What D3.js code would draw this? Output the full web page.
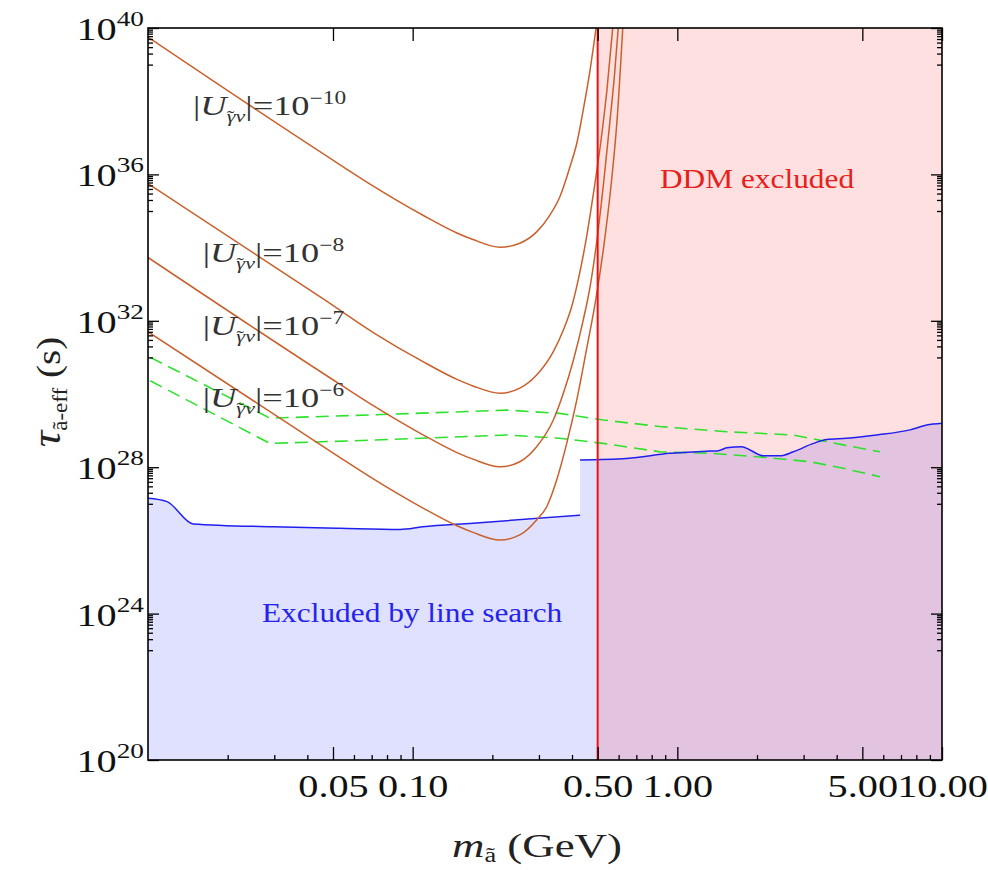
<!DOCTYPE html>
<html>
<head>
<meta charset="utf-8">
<script src="https://cdn.jsdelivr.net/npm/d3@7"></script>
<style>
  body { margin: 0; background: #fff; }
  svg text { font-family: "Liberation Serif", "Times New Roman", serif; }
</style>
</head>
<body>
<div id="chart"></div>
<script>
// x = mass (GeV), second value = log10 of effective lifetime (s)
const massMajor = [0.05, 0.1, 0.5, 1, 5, 10];
const massLabels = ["0.05", "0.10", "0.50", "1.00", "5.00", "10.00"];
const massMinor = [0.02, 0.03, 0.04, 0.06, 0.07, 0.08, 0.09, 0.2, 0.3, 0.4,
    0.6, 0.7, 0.8, 0.9, 2, 3, 4, 6, 7, 8, 9];
const tauMajorExp = [20, 24, 28, 32, 36, 40];

const mixingExp = ["\u221210", "\u22128", "\u22127", "\u22126"];
const curveU10 = [[0.010, 39.75], [0.053, 36.27], [0.071, 35.68], [0.109, 34.89], [0.147, 34.40],
    [0.169, 34.22], [0.214, 34.01], [0.254, 34.12], [0.294, 34.43], [0.330, 34.89], [0.360, 35.39],
    [0.393, 36.21], [0.417, 36.85], [0.441, 37.76], [0.468, 38.85], [0.493, 40.0]];
const curveU8 = [[0.010, 35.75], [0.047, 32.55], [0.071, 31.68], [0.109, 30.89], [0.147, 30.40],
    [0.169, 30.22], [0.214, 30.02], [0.254, 30.16], [0.294, 30.52], [0.340, 31.16], [0.371, 31.75],
    [0.399, 32.39], [0.422, 33.11], [0.452, 34.21], [0.484, 35.57], [0.515, 36.94], [0.542, 38.31],
    [0.570, 40.0]];
const curveU7 = [[0.010, 33.73], [0.053, 30.27], [0.071, 29.68], [0.109, 28.89], [0.147, 28.40],
    [0.169, 28.22], [0.214, 28.01], [0.254, 28.15], [0.294, 28.56], [0.340, 29.29], [0.371, 30.02],
    [0.405, 30.93], [0.441, 32.02], [0.468, 32.93], [0.497, 34.21], [0.528, 35.85], [0.557, 37.49],
    [0.579, 38.72], [0.598, 40.0]];
const curveU6 = [[0.010, 31.70], [0.053, 28.27], [0.071, 27.68], [0.109, 26.89], [0.147, 26.40],
    [0.169, 26.22], [0.214, 26.01], [0.254, 26.15], [0.294, 26.56], [0.321, 26.92], [0.350, 27.65],
    [0.382, 28.65], [0.417, 29.84], [0.455, 31.26], [0.493, 32.62], [0.528, 34.07], [0.562, 35.71],
    [0.592, 37.49], [0.622, 40.0]];

const lineSearchLow = [[0.010, 27.15], [0.0118, 27.06], [0.0148, 26.45], [0.0297, 26.37],
    [0.0531, 26.33], [0.0896, 26.30], [0.109, 26.37], [0.169, 26.47], [0.429, 26.69]];
const lineSearchHigh = [[0.429, 28.20], [0.644, 28.24], [0.938, 28.38], [1.328, 28.44], [1.428, 28.45],
    [1.537, 28.53], [1.751, 28.56], [1.882, 28.47], [2.112, 28.31], [2.443, 28.31], [2.743, 28.42],
    [3.264, 28.65], [3.667, 28.76], [4.364, 28.79], [5.665, 28.88], [7.568, 29.02], [8.753, 29.15],
    [10.0, 29.20]];

const greenUpper = [[0.0102, 31.00], [0.0289, 29.34], [0.0710, 29.43], [0.227, 29.56], [0.360, 29.47],
    [0.525, 29.29], [0.860, 29.11], [1.537, 28.97], [2.743, 28.88], [4.236, 28.61], [5.831, 28.42]];
const greenLower = [[0.0102, 30.36], [0.0289, 28.65], [0.0710, 28.74], [0.227, 28.88], [0.360, 28.79],
    [0.525, 28.65], [0.860, 28.42], [1.328, 28.38], [2.052, 28.28], [3.171, 28.15], [4.236, 27.97],
    [5.831, 27.74]];

const ddmLimit = 0.5;

let margin = {top: 28, right: 46, bottom: 110, left: 148};
let width = 988 - margin.left - margin.right;
let height = 870 - margin.top - margin.bottom;

let svg = d3.select("#chart").append("svg")
    .attr("width", 988)
    .attr("height", 870)
    .append("g")
    .attr("transform", "translate(" + margin.left + "," + margin.top + ")");

let x = d3.scaleLog().domain([0.01, 10]).range([0, width]);
let y = d3.scaleLog().domain([1e20, 1e40]).range([height, 0]);
let yy = v => y(Math.pow(10, v));

svg.append("clipPath").attr("id", "clip")
    .append("rect").attr("width", width).attr("height", height);

let plot = svg.append("g").attr("clip-path", "url(#clip)");

// excluded regions
plot.append("path")
    .datum(lineSearchLow.concat(lineSearchHigh))
    .attr("fill", "rgb(0,0,255)")
    .attr("fill-opacity", 0.12)
    .attr("d", d3.area()
        .x(d => x(d[0]))
        .y0(height)
        .y1(d => yy(d[1]))
        .curve(d3.curveMonotoneX));

plot.append("rect")
    .attr("x", x(ddmLimit))
    .attr("width", width - x(ddmLimit))
    .attr("height", height)
    .attr("fill", "rgb(255,0,0)")
    .attr("fill-opacity", 0.12);

let line = d3.line().x(d => x(d[0])).y(d => yy(d[1]));
let smooth = d3.line().x(d => x(d[0])).y(d => yy(d[1])).curve(d3.curveMonotoneX);

[greenUpper, greenLower].forEach(function (g) {
    plot.append("path")
        .datum(g)
        .attr("fill", "none")
        .attr("stroke", "rgb(45,225,45)")
        .attr("stroke-width", 1.6)
        .attr("stroke-dasharray", "13,7")
        .attr("d", line);
});

[lineSearchLow, lineSearchHigh].forEach(function (b) {
    plot.append("path")
        .datum(b)
        .attr("fill", "none")
        .attr("stroke", "#2020ee")
        .attr("stroke-width", 1.5)
        .attr("d", smooth);
});

[curveU10, curveU8, curveU7, curveU6].forEach(function (c) {
    plot.append("path")
        .datum(c)
        .attr("fill", "none")
        .attr("stroke", "#c9602c")
        .attr("stroke-width", 1.5)
        .attr("d", smooth);
});

plot.append("line")
    .attr("x1", x(ddmLimit)).attr("x2", x(ddmLimit))
    .attr("y1", 0).attr("y2", height)
    .attr("stroke", "#ee1111")
    .attr("stroke-width", 2);

// ticks (all pointing inward)
let tauMajor = tauMajorExp.map(e => Math.pow(10, e));
let tauMinor = [];
tauMajorExp.slice(1).forEach(function (e) {
    for (let j = 1; j <= 9; j++) tauMinor.push(j * Math.pow(10, e - 1));
});

function tickGroup(axis, tx, ty) {
    let g = svg.append("g")
        .attr("transform", "translate(" + tx + "," + ty + ")")
        .call(axis);
    g.select(".domain").remove();
    g.selectAll("line").attr("stroke", "#000").attr("stroke-width", 1.3);
    return g;
}

let xAxis = tickGroup(d3.axisBottom(x).tickValues(massMajor).tickSize(-13).tickSizeOuter(0)
    .tickPadding(15).tickFormat((d, i) => massLabels[i]), 0, height);
xAxis.selectAll("text")
    .attr("font-size", 31)
    .attr("fill", "#111")
    .attr("transform", "scale(1.3,1)");
tickGroup(d3.axisBottom(x).tickValues(massMinor).tickSize(-5).tickSizeOuter(0).tickFormat(""), 0, height);
tickGroup(d3.axisTop(x).tickValues(massMajor).tickSize(-13).tickSizeOuter(0).tickFormat(""), 0, 0);

tickGroup(d3.axisLeft(y).tickValues(tauMajor).tickSize(-11).tickSizeOuter(0).tickFormat(""), 0, 0);
tickGroup(d3.axisLeft(y).tickValues(tauMinor).tickSize(-5).tickSizeOuter(0).tickFormat(""), 0, 0);
tickGroup(d3.axisRight(y).tickValues(tauMajor).tickSize(-11).tickSizeOuter(0).tickFormat(""), width, 0);
tickGroup(d3.axisRight(y).tickValues(tauMinor).tickSize(-5).tickSizeOuter(0).tickFormat(""), width, 0);

// y tick labels 10^n
tauMajorExp.forEach(function (e) {
    let t = svg.append("text")
        .attr("transform", "translate(-4," + (yy(e) + 12) + ") scale(1.3,1)")
        .attr("text-anchor", "end")
        .attr("fill", "#111")
        .attr("font-size", 31);
    t.append("tspan").text("10");
    t.append("tspan").attr("font-size", 21).attr("dy", -14).text(e);
});

svg.append("rect")
    .attr("width", width)
    .attr("height", height)
    .attr("fill", "none")
    .attr("stroke", "#000")
    .attr("stroke-width", 1.6);

// mixing labels, tilde placed over the gamma by hand
const mixingPos = [[0.0148, 37.62], [0.0161, 33.61], [0.0161, 31.61], [0.0161, 29.64]];
mixingExp.forEach(function (e, i) {
    let t = svg.append("text")
        .attr("transform", "translate(" + x(mixingPos[i][0]) + "," + yy(mixingPos[i][1]) + ") scale(1.3,1)")
        .attr("fill", "#333")
        .attr("font-size", 28);
    t.append("tspan").text("|");
    t.append("tspan").style("font-style", "italic").text("U");
    t.append("tspan").style("font-style", "italic").attr("font-size", 17).attr("dy", 7).text("\u03B3");
    t.append("tspan").attr("font-size", 17).attr("dx", -6.5).text("\u02DC");
    t.append("tspan").style("font-style", "italic").attr("font-size", 17).attr("dx", 1).text("\u03BD");
    t.append("tspan").attr("dy", -7).text("|=10");
    t.append("tspan").attr("font-size", 18).attr("dy", -11).text(e);
});

svg.append("text")
    .attr("transform", "translate(" + x(2.0) + "," + yy(35.63) + ") scale(1.12,1)")
    .attr("text-anchor", "middle")
    .attr("fill", "#e8201a")
    .attr("font-size", 28)
    .text("DDM excluded");

svg.append("text")
    .attr("transform", "translate(" + x(0.0995) + "," + yy(23.78) + ") scale(1.12,1)")
    .attr("text-anchor", "middle")
    .attr("fill", "#2424ee")
    .attr("font-size", 28)
    .text("Excluded by line search");

// axis titles
let xt = svg.append("text")
    .attr("transform", "translate(" + (537 - margin.left) + "," + (857 - margin.top) + ") scale(1.32,1)")
    .attr("text-anchor", "middle")
    .attr("fill", "#222")
    .attr("font-size", 34);
xt.append("tspan").style("font-style", "italic").text("m");
xt.append("tspan").attr("font-size", 20).attr("dy", 5).text("ã");
xt.append("tspan").attr("dy", -5).text(" (GeV)");

let yt = svg.append("text")
    .attr("transform", "translate(" + (60 - margin.left) + "," + (392 - margin.top) + ") rotate(-90) scale(1.15,1)")
    .attr("text-anchor", "middle")
    .attr("fill", "#222")
    .attr("font-size", 34);
yt.append("tspan").style("font-style", "italic").attr("font-size", 40).text("τ");
yt.append("tspan").attr("font-size", 20).attr("dy", 7).text("ã-eff");
yt.append("tspan").attr("dy", -7).text(" (s)");
</script>
</body>
</html>
